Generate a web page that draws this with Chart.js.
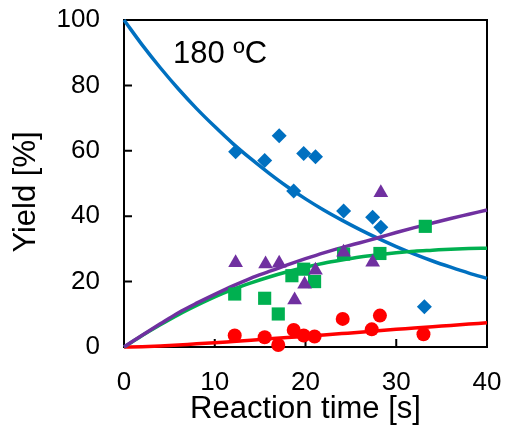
<!DOCTYPE html>
<html><head><meta charset="utf-8">
<script src="https://cdn.jsdelivr.net/npm/chart.js@4"></script>
<style>html,body{margin:0;padding:0;background:#fff;}canvas{display:block}</style>
</head><body>
<canvas id="c" width="508" height="430"></canvas>
<script>
// Measured points
const tBlue   = [12.3, 15.5, 17.1, 18.7, 19.8, 21.1, 24.2, 27.4, 28.3, 33.1];
const yBlue   = [59.7, 57.0, 64.6, 47.7, 59.2, 58.2, 41.6, 39.7, 36.6, 12.3];
const tPurple = [12.3, 15.6, 17.1, 18.8, 19.9, 21.1, 24.2, 27.4, 28.3];
const yPurple = [25.8, 25.4, 25.6, 14.4, 19.2, 23.5, 29.0, 25.9, 47.2];
const tGreen  = [12.2, 15.5, 17.0, 18.5, 19.8, 21.0, 24.2, 28.2, 33.2];
const yGreen  = [16.2, 14.9, 10.1, 21.8, 23.8, 20.0, 28.4, 28.6, 36.9];
const tRed    = [12.2, 15.5, 17.0, 18.7, 19.8, 21.0, 24.1, 27.3, 28.2, 33.0];
const yRed    = [3.5, 3.0, 0.6, 5.2, 3.5, 3.2, 8.6, 5.4, 9.6, 3.9];
// Fitted curves
const curveT      = [0, 2, 4, 6, 8, 10, 12, 14, 16, 18, 20, 22, 24, 26, 28, 30, 32, 34, 36, 38, 40];
const curveBlue   = [100, 92.4, 85.4, 78.9, 72.9, 67.4, 62.2, 57.5, 53.1, 49.0, 45.3, 41.9, 38.8, 35.9, 33.2, 30.7, 28.4, 26.3, 24.4, 22.6, 21.0];
const curvePurple = [0, 3.6, 7.1, 10.5, 13.4, 16.1, 18.7, 21.1, 23.1, 25.1, 27.0, 28.8, 30.4, 31.9, 33.4, 35.0, 36.5, 37.9, 39.3, 40.6, 41.9];
const curveGreen  = [0, 3.5, 6.8, 9.9, 12.7, 15.3, 17.6, 19.6, 21.4, 23.0, 24.4, 25.6, 26.6, 27.5, 28.2, 28.8, 29.3, 29.6, 29.9, 30.1, 30.2];
const curveRed    = [0, 0.1, 0.3, 0.6, 1.0, 1.3, 1.7, 2.1, 2.5, 2.9, 3.3, 3.7, 4.1, 4.5, 5.0, 5.4, 5.8, 6.2, 6.6, 7.0, 7.4];
const xTicks = [0, 10, 20, 30, 40];
const yTicks = [0, 20, 40, 60, 80, 100];
const labelX = 'Reaction time [s]';
const labelY = 'Yield [%]';
const note = '180 \u00BAC';

const C = {blue:'#0070C0', purple:'#7030A0', green:'#00B050', red:'#FF0000'};
const pts = (t, y) => t.map((v, i) => ({x: v, y: y[i]}));
const FONT = "'Liberation Sans', Arial, sans-serif";

function markers(t, y, color, style, r) {
  return {type:'scatter', data: pts(t, y), pointStyle: style, pointRadius: r,
    backgroundColor: color, borderColor: color, borderWidth: 0, clip: false, showLine: false};
}
function curve(y, color) {
  return {type:'line', data: pts(curveT, y), borderColor: color, borderWidth: 3.5,
    pointRadius: 0, fill: false, cubicInterpolationMode: 'monotone', clip: 2};
}

const frame = {
  id: 'frame',
  beforeDatasetsDraw(chart) {
    const {ctx, chartArea: a, scales: {x, y}} = chart;
    ctx.save();
    ctx.strokeStyle = '#000'; ctx.lineWidth = 2;
    ctx.strokeRect(a.left, a.top, a.right - a.left, a.bottom - a.top);
    ctx.beginPath();
    xTicks.forEach(v => { const p = x.getPixelForValue(v); ctx.moveTo(p, a.bottom); ctx.lineTo(p, a.bottom - 8); });
    yTicks.forEach(v => { const p = y.getPixelForValue(v); ctx.moveTo(a.left, p); ctx.lineTo(a.left + 8, p); });
    ctx.stroke();
    ctx.restore();
  },
  afterDraw(chart) {
    const {ctx, chartArea: a} = chart;
    ctx.save();
    ctx.fillStyle = '#000';
    ctx.font = '31px ' + FONT;
    ctx.textBaseline = 'alphabetic';
    ctx.textAlign = 'left';
    ctx.fillText(note, 173, 63);
    ctx.textAlign = 'center';
    ctx.fillText(labelX, (a.left + a.right) / 2, 418);
    ctx.translate(35, 192);
    ctx.rotate(-Math.PI / 2);
    ctx.fillText(labelY, 0, 0);
    ctx.restore();
  }
};

new Chart(document.getElementById('c'), {
  type: 'scatter',
  data: {datasets: [
    markers(tPurple, yPurple, C.purple, 'triangle', 8.5),
    markers(tGreen, yGreen, C.green, 'rect', 9.3),
    markers(tRed, yRed, C.red, 'circle', 7),
    markers(tBlue, yBlue, C.blue, 'rectRot', 7.5),
    curve(curvePurple, C.purple),
    curve(curveGreen, C.green),
    curve(curveRed, C.red),
    curve(curveBlue, C.blue)
  ]},
  options: {
    responsive: false, animation: false, devicePixelRatio: 1,
    layout: {padding: {left: 0, top: 20, right: 21, bottom: 0}},
    plugins: {legend: {display: false}, tooltip: {enabled: false}},
    scales: {
      x: {type: 'linear', min: 0, max: 40,
        afterBuildTicks(s) { s.ticks = xTicks.map(v => ({value: v})); },
        ticks: {font: {family: FONT, size: 26}, color: '#000', padding: 20, maxRotation: 0},
        grid: {display: false, drawTicks: false}, border: {display: false},
        afterFit(s) { s.height = 83; s.paddingLeft = 0; s.paddingRight = 0; }},
      y: {type: 'linear', min: 0, max: 100,
        afterBuildTicks(s) { s.ticks = yTicks.map(v => ({value: v})); },
        ticks: {font: {family: FONT, size: 26}, color: '#000', padding: 24},
        grid: {display: false, drawTicks: false}, border: {display: false},
        afterFit(s) { s.width = 124; s.paddingTop = 0; s.paddingBottom = 0; }}
    }
  },
  plugins: [frame]
});
</script>
</body></html>
